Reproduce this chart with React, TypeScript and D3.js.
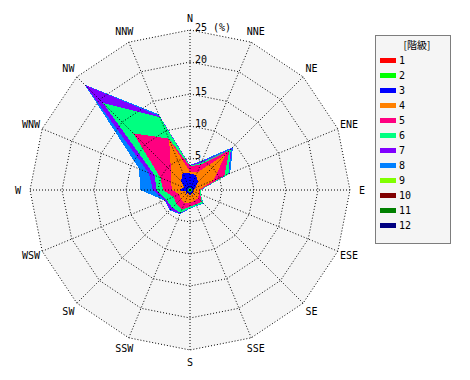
import React from "react";
import * as d3 from "d3";

const DIRECTIONS = ["N", "NNE", "NE", "ENE", "E", "ESE", "SE", "SSE", "S", "SSW", "SW", "WSW", "W", "WNW", "NW", "NNW"];
const CLASS_LABELS = ["1", "2", "3", "4", "5", "6", "7", "8", "9", "10", "11", "12"];
const CLASS_COLORS = ["#ff0000", "#00ff00", "#0000ff", "#ff8000", "#ff0080", "#00ff80", "#8000ff", "#0080ff", "#80ff00", "#800000", "#008000", "#000080"];
const RADIAL_TICKS = [5, 10, 15, 20, 25];

// frequency (%) per class, per direction (N .. NNW)
const class1 = [0.1, 0.1, 0.1, 0.1, 0.1, 0.1, 0.1, 0.1, 0.1, 0.1, 0.1, 0.1, 0.1, 0.1, 0.1, 0.1];
const class2 = [0.2, 0.2, 0.2, 0.2, 0.2, 0.2, 0.2, 0.2, 0.2, 0.2, 0.2, 0.2, 0.2, 0.2, 0.2, 0.2];
const class3 = [2.3, 2.2, 1.5, 0.5, 0.3, 0.2, 0.6, 0.2, 0.6, 0.2, 0.6, 0.3, 1.5, 0.7, 1.7, 2.6];
const class4 = [0.3, 0.5, 6.1, 3.2, 0.8, 1.0, 0.9, 1.3, 1.1, 1.7, 1.1, 1.2, 1.0, 2.2, 2.2, 5.6];
const class5 = [0.8, 1.3, 0.8, 1.8, 0.2, 0.2, 0.8, 0.6, 0.6, 1.1, 1.0, 1.0, 1.4, 1.8, 8.3, 0.2];
const class6 = [0.1, 0.3, 0.3, 0.7, 0.1, 0.1, 0.3, 0.2, 0.2, 0.6, 0.9, 1.2, 1.0, 1.0, 6.7, 3.6];
const class7 = [0.1, 0.2, 0.2, 0.1, 0.0, 0.0, 0.0, 0.0, 0.0, 0.1, 0.5, 0.2, 0.6, 1.0, 4.0, 0.2];
const class8 = [0.0, 0.2, 0.3, 0.2, 0.0, 0.0, 0.1, 0.1, 0.1, 0.1, 0.1, 0.1, 2.0, 1.6, 0.1, 0.3];
const class9 = [0, 0, 0, 0, 0, 0, 0, 0, 0, 0, 0, 0, 0, 0, 0, 0];
const class10 = [0, 0, 0, 0, 0, 0, 0, 0, 0, 0, 0, 0, 0, 0, 0, 0];
const class11 = [0, 0, 0, 0, 0, 0, 0, 0, 0, 0, 0, 0, 0, 0, 0, 0];
const class12 = [0, 0, 0, 0, 0, 0, 0, 0, 0, 0, 0, 0, 0, 0, 0, 0];

const SERIES = [class1, class2, class3, class4, class5, class6, class7, class8, class9, class10, class11, class12];

const W = 470;
const H = 380;
const CX = 190;
const CY = 190;
const R = 160;
const MONO = "'DejaVu Sans Mono', monospace";

export default function App() {
  const rows = DIRECTIONS.map((d, i) => {
    const row: Record<string, any> = { dir: d };
    CLASS_LABELS.forEach((c, k) => (row[c] = SERIES[k][i]));
    return row;
  });
  const stacked = d3.stack<any>().keys(CLASS_LABELS)(rows);

  const r = d3.scaleLinear().domain([0, 25]).range([0, R]);
  const angle = d3
    .scalePoint<string>()
    .domain(DIRECTIONS)
    .range([0, 2 * Math.PI - (2 * Math.PI) / DIRECTIONS.length]);

  const ringLine = d3
    .lineRadial<string>()
    .angle((d) => angle(d)!)
    .curve(d3.curveLinearClosed);

  const ringPath = (v: number) => ringLine.radius(() => r(v))(DIRECTIONS) || "";

  const areaLine = d3
    .lineRadial<any>()
    .angle((d) => angle(d.data.dir)!)
    .radius((d) => r(d[1]))
    .curve(d3.curveLinearClosed);

  const pt = (dir: string, rad: number) => {
    const a = angle(dir)!;
    return [Math.sin(a) * rad, -Math.cos(a) * rad];
  };

  const dotted = { stroke: "#000", strokeWidth: 1, strokeDasharray: "1,2", fill: "none" } as const;

  return (
    <svg
      width={W}
      height={H}
      style={{ position: "absolute", left: 0, top: 0, background: "#fff" }}
    >
      <g transform={`translate(${CX},${CY})`}>
        <path d={ringPath(25)} fill="#f5f5f5" />
        {stacked
          .map((s, k) => ({ s, k }))
          .filter(({ k }) => d3.sum(SERIES[k]) > 0)
          .reverse()
          .map(({ s, k }) => (
            <path
              key={k}
              d={areaLine(s as any) || ""}
              fill={CLASS_COLORS[k]}
              shapeRendering="crispEdges"
            />
          ))}
        {RADIAL_TICKS.map((t) => (
          <path key={t} d={ringPath(t)} {...dotted} />
        ))}
        {DIRECTIONS.map((d) => {
          const [x, y] = pt(d, R);
          return <line key={d} x1={0} y1={0} x2={x} y2={y} {...dotted} />;
        })}
        {RADIAL_TICKS.map((t) => (
          <text
            key={"t" + t}
            x={5}
            y={-r(t) + 1}
            fontFamily={MONO}
            fontSize={10}
            fill="#000"
          >
            {t === 25 ? "25 (%)" : String(t)}
          </text>
        ))}
        {DIRECTIONS.map((d) => {
          const [x, y] = pt(d, R + 12);
          return (
            <text
              key={"l" + d}
              x={x}
              y={y}
              textAnchor="middle"
              dominantBaseline="central"
              fontFamily={MONO}
              fontSize={10}
              fill="#000"
            >
              {d}
            </text>
          );
        })}
      </g>
      <g transform="translate(375,35)">
        <rect x={0.5} y={0.5} width={75} height={208} fill="#f5f5f5" {...{ stroke: "#000", strokeWidth: 1, strokeDasharray: "1,1" }} />
        <text
          x={42}
          y={9}
          textAnchor="middle"
          dominantBaseline="central"
          fontFamily="'Noto Sans CJK JP', sans-serif"
          fontSize={10}
          fill="#000"
        >
          [階級]
        </text>
        {CLASS_LABELS.map((c, k) => (
          <g key={c} transform={`translate(5,${25 + k * 15})`}>
            <rect x={0} y={-2} width={16} height={5} fill={CLASS_COLORS[k]} />
            <text x={19} y={0} dominantBaseline="central" fontFamily={MONO} fontSize={10} fill="#000">
              {c}
            </text>
          </g>
        ))}
      </g>
    </svg>
  );
}
